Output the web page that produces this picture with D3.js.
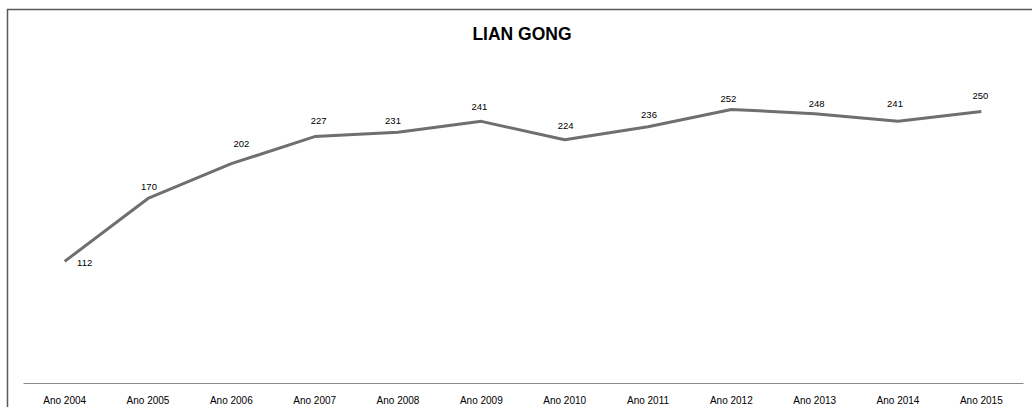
<!DOCTYPE html>
<html>
<head>
<meta charset="utf-8">
<script src="https://cdn.jsdelivr.net/npm/d3@7"></script>
<style>
  html, body { margin: 0; padding: 0; background: #fff; overflow: hidden; }
  svg { display: block; }
</style>
</head>
<body>
<svg id="chart" width="1032" height="407"></svg>
<script>
// ---- data ----
const categories = ["Ano 2004","Ano 2005","Ano 2006","Ano 2007","Ano 2008","Ano 2009","Ano 2010","Ano 2011","Ano 2012","Ano 2013","Ano 2014","Ano 2015"];
const values = [112, 170, 202, 227, 231, 241, 224, 236, 252, 248, 241, 250];
const title = "LIAN GONG";

// ---- layout (label nudges relative to each point, px) ----
const labelDx = [20, 1, 10, 4, -5, -2, 1, 1, -3, 2, -3, -1];
const labelDy = [1, -12, -20, -16, -12, -15, -14, -12, -11, -10, -18, -16];

const svg = d3.select("#chart");
const font = "'Liberation Sans', Arial, sans-serif";

// chart frame (extends past the right and bottom edges, as in the reference crop)
svg.append("rect")
  .attr("x", 7.5).attr("y", 9.5)
  .attr("width", 1040).attr("height", 420)
  .attr("fill", "#fff")
  .attr("stroke", "#595959").attr("stroke-width", 1.5);

// title
svg.append("text")
  .attr("x", 522).attr("y", 39.5)
  .attr("text-anchor", "middle")
  .attr("font-family", font).attr("font-weight", "bold")
  .attr("font-size", 17.5).attr("fill", "#000")
  .text(title);

const x = d3.scaleBand().domain(categories).range([23, 1023]);
const y = d3.scaleLinear().domain([0, 300]).range([383, 57.3]);

// x axis
const gx = svg.append("g").attr("transform", `translate(0,${y(0)})`)
  .call(d3.axisBottom(x).tickSize(0).tickPadding(14).tickSizeOuter(0));
gx.select(".domain").attr("stroke", "#898989").attr("stroke-width", 1);
gx.selectAll("text").attr("font-family", font).attr("font-size", 10).attr("fill", "#000");

// line
const line = d3.line()
  .x((d, i) => x(categories[i]) + x.bandwidth() / 2)
  .y(d => y(d));

svg.append("path")
  .datum(values)
  .attr("d", line)
  .attr("fill", "none")
  .attr("stroke", "#6f6f6f")
  .attr("stroke-width", 3)
  .attr("stroke-linejoin", "round");

// value labels
svg.append("g").selectAll("text")
  .data(values)
  .join("text")
  .attr("x", (d, i) => x(categories[i]) + x.bandwidth() / 2 + labelDx[i])
  .attr("y", (d, i) => y(d) + labelDy[i])
  .attr("dy", "0.35em")
  .attr("text-anchor", "middle")
  .attr("font-family", font).attr("font-size", 9.5).attr("fill", "#000")
  .text(d => d);
</script>
</body>
</html>
